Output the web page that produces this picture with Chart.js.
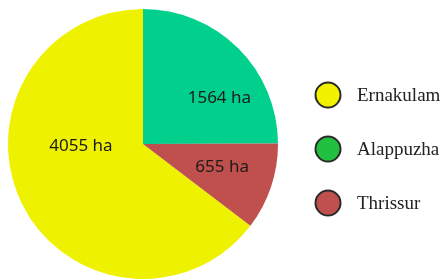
<!DOCTYPE html>
<html>
<head>
<meta charset="utf-8">
<script src="https://cdn.jsdelivr.net/npm/chart.js@4"></script>
<style>
  html, body { margin: 0; padding: 0; background: #fff; }
  #wrap { position: relative; width: 444px; height: 280px; }
</style>
</head>
<body>
<div id="wrap"><canvas id="pie"></canvas></div>
<script>
const districts = ['Ernakulam', 'Alappuzha', 'Thrissur'];
const areaHa = [4055, 1564, 655];
const unit = 'ha';

const sliceColors = ['#eef200', '#00d08c', '#c0504d'];
const legendColors = ['#f2f200', '#22c040', '#c0504d'];
// label placement per slice: [angle from top in degrees, distance as share of radius]
const labelSpots = [[268, 0.46], [59, 0.66], [106, 0.61]];

const total = areaHa.reduce((a, b) => a + b, 0);
// Ernakulam ends at 12 o'clock, the others follow it clockwise
const startAngle = (total - areaHa[0]) / total * 360;

const sideLegend = {
  id: 'sideLegend',
  afterDraw(chart) {
    const c = chart.ctx;
    const meta = chart.getDatasetMeta(0);
    c.save();
    // slice labels
    c.font = '17px "Noto Sans", sans-serif';
    c.fillStyle = '#1c1c1c';
    c.textAlign = 'center';
    c.textBaseline = 'middle';
    meta.data.forEach((arc, i) => {
      const [deg, f] = labelSpots[i];
      const a = deg * Math.PI / 180;
      const r = arc.outerRadius * f;
      c.fillText(areaHa[i] + ' ' + unit, arc.x + r * Math.sin(a), arc.y - r * Math.cos(a));
    });
    // legend on the right
    const x0 = 328, y0 = 95, step = 54;
    districts.forEach((name, i) => {
      const y = y0 + i * step;
      c.beginPath();
      c.arc(x0, y, 12.5, 0, Math.PI * 2);
      c.fillStyle = legendColors[i];
      c.fill();
      c.lineWidth = 2;
      c.strokeStyle = '#2a2a2a';
      c.stroke();
      c.font = '19px "Liberation Serif", serif';
      c.fillStyle = '#222';
      c.textAlign = 'left';
      c.fillText(name, x0 + 29, y + 1);
    });
    c.restore();
  }
};

new Chart(document.getElementById('pie'), {
  type: 'pie',
  data: {
    labels: districts,
    datasets: [{
      data: areaHa,
      backgroundColor: sliceColors,
      borderWidth: 0
    }]
  },
  options: {
    responsive: true,
    maintainAspectRatio: false,
    animation: false,
    rotation: startAngle,
    layout: { padding: { top: 9, bottom: 1, left: 8, right: 166 } },
    plugins: {
      legend: { display: false },
      tooltip: { enabled: false }
    }
  },
  plugins: [sideLegend]
});
</script>
</body>
</html>
